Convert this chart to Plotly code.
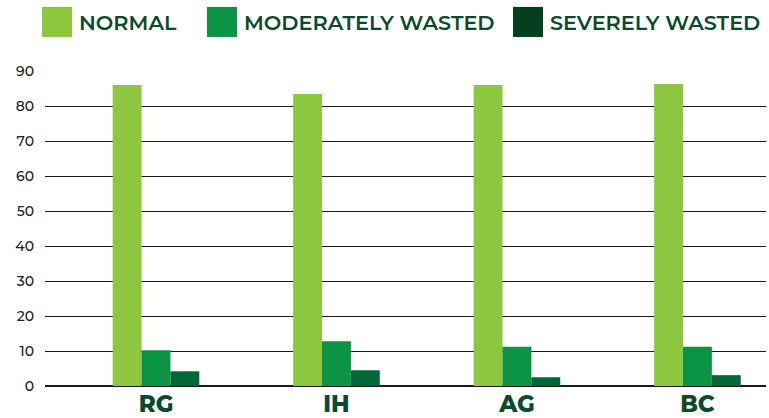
import plotly.graph_objects as go

categories = ["RG", "IH", "AG", "BC"]
series_names = ["NORMAL", "MODERATELY WASTED", "SEVERELY WASTED"]
normal = [86.0, 83.4, 86.0, 86.3]
moderate = [10.2, 12.8, 11.2, 11.2]
severe = [4.2, 4.5, 2.5, 3.1]
y_ticks = [0, 10, 20, 30, 40, 50, 60, 70, 80, 90]

bar_colors = ["#8DC63F", "#0A9444", "#006837"]
legend_colors = ["#8DC63F", "#0A9444", "#003F20"]
text_color = "#0D4A2B"

fig = go.Figure()
for name, vals, col in zip(series_names, [normal, moderate, severe], bar_colors):
    fig.add_trace(go.Bar(x=categories, y=vals, name=name, marker_color=col,
                         marker_line_width=0, showlegend=False))

# manual legend (large square swatches)
legend_x = [42, 207, 513]
for name, col, lx in zip(series_names, legend_colors, legend_x):
    fig.add_shape(type="rect", xref="paper", yref="paper",
                  x0=(lx - 45) / 721, x1=(lx + 30 - 45) / 721,
                  y0=(385.7 - 37) / 314.7, y1=(385.7 - 7) / 314.7,
                  fillcolor=col, line_width=0)
    fig.add_annotation(text=name, xref="paper", yref="paper",
                       x=(lx + 35 - 45) / 721, y=(385.7 - 22.5) / 314.7,
                       xanchor="left", yanchor="middle", showarrow=False,
                       font=dict(family="Montserrat, Open Sans", size=20.8, color=text_color, weight=600))

fig.update_layout(
    width=769, height=418,
    margin=dict(l=45, r=3, t=71, b=32),
    paper_bgcolor="white", plot_bgcolor="white",
    barmode="group", bargap=0.52, bargroupgap=0,
    xaxis=dict(range=[-0.615, 3.380], showgrid=False, showline=False, zeroline=False,
               ticks="", ticklabelstandoff=2, automargin=False,
               tickfont=dict(family="Montserrat, Open Sans", size=23, color=text_color, weight=800)),
    yaxis=dict(range=[0, 90], tickvals=y_ticks, showgrid=True, gridcolor="#1a1a1a", gridwidth=1,
               zeroline=True, zerolinecolor="#1a1a1a", zerolinewidth=2, showline=False,
               ticks="", ticklabelstandoff=10, automargin=False,
               tickfont=dict(family="Montserrat, Open Sans", size=14, color="#222222", weight=500)),
)

fig.write_html("out.html")
